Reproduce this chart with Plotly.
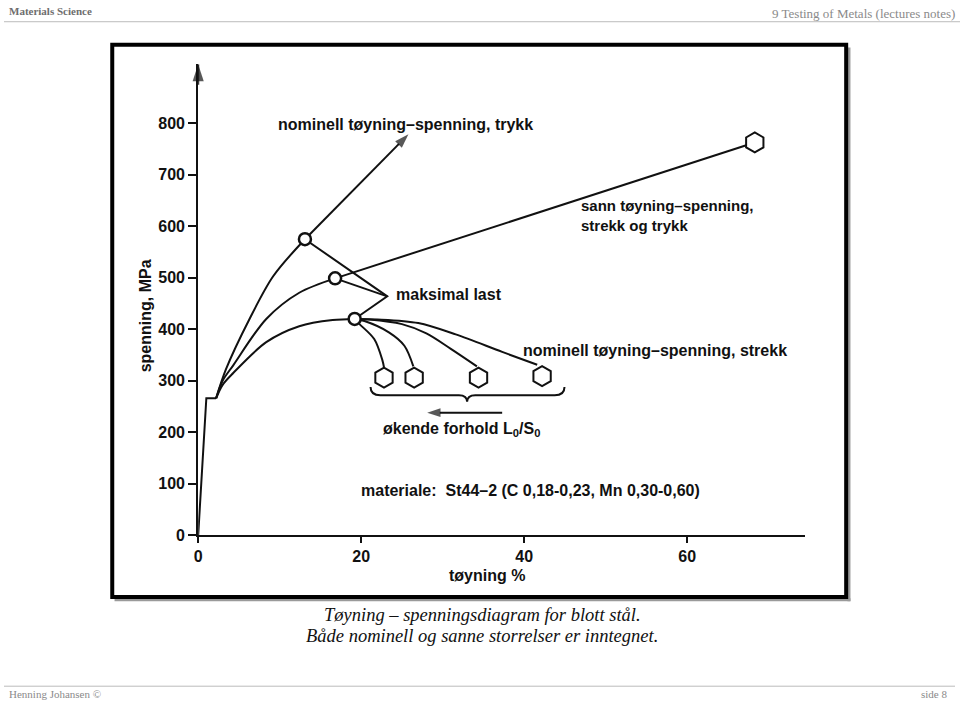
import plotly.graph_objects as go

W, H = 960, 711

# ---------------- data ----------------
x_ticks = [0, 20, 40, 60]
y_ticks = [0, 100, 200, 300, 400, 500, 600, 700, 800]

# common elastic part + yield step
elastic_x = [0.0, 1.0, 2.2]
elastic_y = [0, 266, 266]

# nominal stress-strain, compression (trykk)
comp_x = [2.2, 3.4, 6.3, 9.2, 13.1]
comp_y = [266, 322, 420, 503, 575]
comp_ext_x = [13.1, 19.5, 25.8]
comp_ext_y = [575, 677, 779]

# true stress-strain (sann), tension and compression
true_x = [2.2, 3.0, 4.3, 8.35, 12.4, 16.8]
true_y = [266, 300, 330, 420, 471, 499]
true_ext_x = [16.8, 68.3]
true_ext_y = [499, 763]

# nominal stress-strain, tension (strekk)
nom_x = [2.2, 3.0, 4.3, 8.35, 12.4, 16.5, 19.2]
nom_y = [266, 292, 315, 375, 406, 418, 420]

# maximum-load points
max_x = [13.1, 16.8, 19.2]
max_y = [575, 499, 420]
maks_join = (23.2, 464)

# fracture branches after maximum load (increasing L0/S0 to the left)
branch1_x = [19.2, 19.8, 21.6, 22.6, 22.8]
branch1_y = [420, 410, 381, 340, 326]
branch2_x = [19.2, 20.4, 23.4, 25.3, 26.4]
branch2_y = [420, 416, 394, 368, 328]
branch3_x = [19.2, 21.0, 25.0, 28.0, 31.0, 34.2]
branch3_y = [420, 419, 410, 392, 362, 328]
branch4_x = [19.2, 22.0, 27.0, 31.6, 37.3, 41.6]
branch4_y = [420, 419, 412, 390, 356, 331]

frac_x = [22.8, 26.5, 34.4, 42.2, 68.3]
frac_y = [306, 306, 306, 309, 763]

# arrow "increasing L0/S0"
ratio_arrow_x = [37.3, 28.1]
ratio_arrow_y = [238, 238]

FONT = "Liberation Sans"
SERIF = "Liberation Serif"
INK = "#111111"
GRAY = "#8a8a8a"
FS = 16
FW = "bold"

fig = go.Figure()

def line(xs, ys, spline=True, arrow=False, asize=13):
    kw = {}
    mode = "lines"
    if arrow:
        mode = "lines+markers"
        kw["marker"] = dict(symbol="arrow", size=[0] * (len(xs) - 1) + [asize], color=INK,
                            angleref="previous", line=dict(width=0))
    fig.add_trace(go.Scatter(
        x=xs, y=ys, mode=mode,
        line=dict(color=INK, width=2, shape="spline" if spline else "linear", smoothing=0.9),
        hoverinfo="skip", showlegend=False, cliponaxis=False, **kw))

# y-axis arrow head
y_max = 915
line([0, 0], [y_max - 40, y_max], spline=False, arrow=True, asize=18)

line(elastic_x, elastic_y, spline=False)
line(comp_x, comp_y)
line(comp_ext_x, comp_ext_y, spline=False, arrow=True, asize=15)
line(true_x, true_y)
line(true_ext_x, true_ext_y, spline=False)
line(nom_x, nom_y)
line([max_x[0], maks_join[0], max_x[2]], [max_y[0], maks_join[1], max_y[2]], spline=False)
line([max_x[1], maks_join[0]], [max_y[1], maks_join[1]], spline=False)
for bx, by in [(branch1_x, branch1_y), (branch2_x, branch2_y),
               (branch3_x, branch3_y), (branch4_x, branch4_y)]:
    line(bx, by)
line(ratio_arrow_x, ratio_arrow_y, spline=False, arrow=True, asize=14)

fig.add_trace(go.Scatter(
    x=max_x, y=max_y, mode="markers",
    marker=dict(symbol="circle", size=12, color="white", line=dict(color=INK, width=2.5)),
    hoverinfo="skip", showlegend=False))
fig.add_trace(go.Scatter(
    x=frac_x, y=frac_y, mode="markers",
    marker=dict(symbol="hexagon", size=20, color="white", line=dict(color=INK, width=2)),
    hoverinfo="skip", showlegend=False))

# ---------------- axes ----------------
px_per_x = (686 - 195) / 60.0
px_per_y = (542 - 125) / 800.0
x_max = 74.5
x0_px, y0_px = 195, 542
xdom = [x0_px / W, (x0_px + x_max * px_per_x) / W]
ydom = [(H - y0_px) / H, (H - (y0_px - y_max * px_per_y)) / H]

tickfont = dict(family=FONT, size=FS, color=INK, weight=FW)
fig.update_xaxes(domain=xdom, range=[0, x_max], tickvals=x_ticks, ticktext=[str(v) for v in x_ticks],
                 showline=True, linecolor=INK, linewidth=2, ticks="outside", ticklen=6, tickwidth=2,
                 tickcolor=INK, showgrid=False, zeroline=False, tickfont=tickfont)
fig.update_yaxes(domain=ydom, range=[0, y_max], tickvals=y_ticks, ticktext=[str(v) for v in y_ticks],
                 showline=True, linecolor=INK, linewidth=2, ticks="outside", ticklen=8, tickwidth=2,
                 tickcolor=INK, showgrid=False, zeroline=False, tickfont=tickfont)

def px(xp):
    return xp / W

def py(yp):
    return 1 - yp / H

ann = []
tf = dict(family=FONT, size=FS, color=INK, weight=FW)

def label(text, x, y, anchor="left", size=FS, **kw):
    ann.append(dict(text=text, x=x, y=y, xref="x", yref="y", showarrow=False,
                    xanchor=anchor, yanchor="middle",
                    font=dict(family=FONT, size=size, color=INK, weight=FW), **kw))

label("nominell tøyning–spenning, trykk", 9.6, 798)
label("sann tøyning–spenning,<br>strekk og trykk", 46.7, 621, size=15, align="left")
label("maksimal last", 24.0, 468)
label("nominell tøyning–spenning, strekk", 39.6, 359)
label("økende forhold L<sub>0</sub>/S<sub>0</sub>", 22.4, 205)
label("materiale:  St44–2 (C 0,18-0,23, Mn 0,30-0,60)", 19.7, 86)

# axis titles
ann.append(dict(text="tøyning %", x=35.4, y=py(583), xref="x", yref="paper", showarrow=False,
                xanchor="center", yanchor="middle", font=tf))
ann.append(dict(text="spenning, MPa", x=px(142), y=426, xref="paper", yref="y", showarrow=False,
                textangle=-90, xanchor="center", yanchor="middle", font=tf))

# slide header / caption / footer
ann.append(dict(text="<b>Materials Science</b>", x=px(3), y=py(11), xref="paper", yref="paper",
                showarrow=False, xanchor="left", yanchor="middle",
                font=dict(family=SERIF, size=11, color="#6e6e6e")))
ann.append(dict(text="9 Testing of Metals (lectures notes)", x=px(957), y=py(14), xref="paper", yref="paper",
                showarrow=False, xanchor="right", yanchor="middle",
                font=dict(family=SERIF, size=13, color=GRAY)))
ann.append(dict(text="<i>Tøyning – spenningsdiagram for blott stål.</i>", x=0.5, y=py(623),
                xref="paper", yref="paper", showarrow=False, xanchor="center", yanchor="middle",
                font=dict(family=SERIF, size=18.5, color=INK)))
ann.append(dict(text="<i>Både nominell og sanne storrelser er inntegnet.</i>", x=0.5, y=py(644),
                xref="paper", yref="paper", showarrow=False, xanchor="center", yanchor="middle",
                font=dict(family=SERIF, size=18.5, color=INK)))
ann.append(dict(text="Henning Johansen ©", x=px(3), y=py(703), xref="paper", yref="paper",
                showarrow=False, xanchor="left", yanchor="middle",
                font=dict(family=SERIF, size=11, color=GRAY)))
ann.append(dict(text="side 8", x=px(949), y=py(703), xref="paper", yref="paper",
                showarrow=False, xanchor="right", yanchor="middle",
                font=dict(family=SERIF, size=11, color=GRAY)))

shapes = []
# header & footer rules
shapes.append(dict(type="line", xref="paper", yref="paper", x0=0, x1=1, y0=py(22), y1=py(22),
                   line=dict(color="#bbbbbb", width=1)))
shapes.append(dict(type="line", xref="paper", yref="paper", x0=0, x1=px(955), y0=py(695), y1=py(695),
                   line=dict(color="#bbbbbb", width=1)))
# picture frame with shadow
shapes.append(dict(type="rect", xref="paper", yref="paper", x0=px(111), x1=px(850), y0=py(609), y1=py(606),
                   fillcolor="#9a9a9a", line=dict(width=0), layer="below"))
shapes.append(dict(type="rect", xref="paper", yref="paper", x0=px(847), x1=px(850), y0=py(609), y1=py(48),
                   fillcolor="#9a9a9a", line=dict(width=0), layer="below"))
shapes.append(dict(type="rect", xref="paper", yref="paper", x0=px(108.7), x1=px(845.7), y0=py(604.7), y1=py(45.3),
                   line=dict(color="#000000", width=4), fillcolor="rgba(0,0,0,0)", layer="above"))
# brace under the fracture hexagons
bl, br, bm = frac_x[0] - 1.65, frac_x[3] + 2.75, 33.0
by0, by1, by2 = 288, 272, 259
brace = (f"M {bl},{by0} Q {bl},{by1} {bl + 1.2},{by1} L {bm - 1.0},{by1} "
         f"Q {bm},{by1} {bm},{by2} Q {bm},{by1} {bm + 1.0},{by1} "
         f"L {br - 1.2},{by1} Q {br},{by1} {br},{by0}")
shapes.append(dict(type="path", xref="x", yref="y", path=brace, line=dict(color=INK, width=2)))

fig.update_layout(width=W, height=H, margin=dict(l=0, r=0, t=0, b=0),
                  paper_bgcolor="white", plot_bgcolor="white",
                  annotations=ann, shapes=shapes, showlegend=False)

fig.write_html("out.html")
